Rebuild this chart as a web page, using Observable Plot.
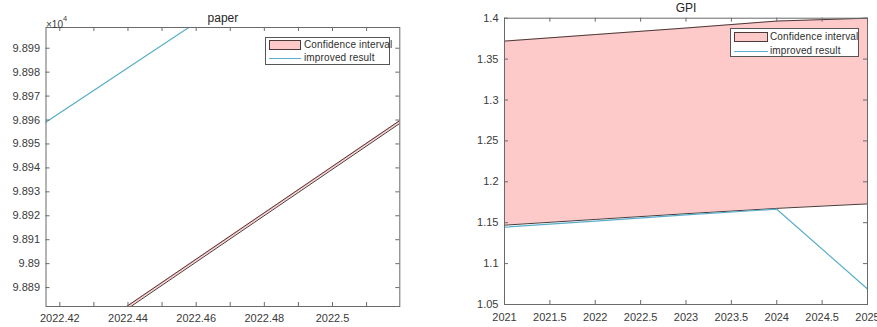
<!DOCTYPE html>
<html>
<head>
<meta charset="utf-8">
<script src="https://cdn.jsdelivr.net/npm/d3@7"></script>
<script src="https://cdn.jsdelivr.net/npm/@observablehq/plot@0.6"></script>
<style>
  html, body { margin: 0; padding: 0; background: #fff; overflow: hidden; }
  #fig { position: relative; width: 877px; height: 327px; font-family: "Liberation Sans", Arial, sans-serif; }
  .panel { position: absolute; top: 0; }
  .legend { position: absolute; background: #fff; border: 1px solid #555; box-sizing: border-box; font-size: 10px; letter-spacing: 0.15px; color: #2e2e2e; }
  .legend .patch { position: absolute; background: #fdc9c9; border: 1px solid #4a3a3a; box-sizing: border-box; }
  .legend .swatch-line { position: absolute; height: 0; border-top: 1.2px solid #5aaecb; }
  .legend .lab { position: absolute; white-space: nowrap; line-height: 12px; }
</style>
</head>
<body>
<div id="fig"></div>
<script>
// ---- "paper" panel: raw values, axis shows them in units of 10^4 ----
const paperYears = [2022, 2023];
const paperUpper = [98456.0, 99425.3];
const paperLower = [98454.8, 99424.1];
const paperImproved = [98566.2, 99510.8];
const paperXDomain = [2022.41595, 2022.51974];
const paperYDomain = [98882.1, 98998.65];
const paperXTicks = [2022.42, 2022.43, 2022.44, 2022.45, 2022.46, 2022.47, 2022.48, 2022.49, 2022.50, 2022.51];
const paperXLabels = [2022.42, 2022.44, 2022.46, 2022.48, 2022.50];
const paperYTicks = [98890, 98900, 98910, 98920, 98930, 98940, 98950, 98960, 98970, 98980, 98990];

// ---- "GPI" panel ----
const gpiYears = [2021, 2022, 2023, 2024, 2025];
const gpiUpper = [1.372, 1.380, 1.388, 1.3965, 1.400];
const gpiLower = [1.147, 1.154, 1.161, 1.1675, 1.173];
const gpiImproved = [1.1445, 1.152, 1.1595, 1.1665, 1.069];
const gpiXDomain = [2021, 2025];
const gpiYDomain = [1.05, 1.4];
const gpiXTicks = [2021, 2021.5, 2022, 2022.5, 2023, 2023.5, 2024, 2024.5, 2025];
const gpiYTicks = [1.05, 1.1, 1.15, 1.2, 1.25, 1.3, 1.35, 1.4];

const fillPink = "#fdc9c9";
const edgeColor = "#4a3a3a";
const lineCyan = "#5aaecb";
const frameColor = "#6a6a6a";
const textColor = "#3a3a3a";

function rows(years, lower, upper, improved) {
  return years.map((year, i) => ({year, lower: lower[i], upper: upper[i], improved: improved[i]}));
}

// Box-style axes with inward ticks on all four sides
function boxTicks(xTicks, yTicks, fw, fh) {
  const len = 4;
  return [
    Plot.tickX(xTicks, {x: d => d, insetTop: fh - len, stroke: frameColor}),
    Plot.tickX(xTicks, {x: d => d, insetBottom: fh - len, stroke: frameColor}),
    Plot.tickY(yTicks, {y: d => d, insetRight: fw - len, stroke: frameColor}),
    Plot.tickY(yTicks, {y: d => d, insetLeft: fw - len, stroke: frameColor})
  ];
}

function panel({width, height, margins, xDomain, yDomain, xTicks, xLabels, yTicks, xFormat, yFormat, xPad, data, clip, title, titleDy, extraMarks}) {
  const [mt, mr, mb, ml] = margins;
  const fw = width - ml - mr, fh = height - mt - mb;
  return Plot.plot({
    width, height,
    marginTop: mt, marginRight: mr, marginBottom: mb, marginLeft: ml,
    x: {domain: xDomain},
    y: {domain: yDomain},
    style: {fontFamily: '"Liberation Sans", Arial, sans-serif', fontSize: "11px", color: textColor, background: "transparent", overflow: "visible"},
    marks: [
      Plot.areaY(data, {x: "year", y1: "lower", y2: "upper", fill: fillPink, clip}),
      Plot.lineY(data, {x: "year", y: "upper", stroke: edgeColor, strokeWidth: 1, clip}),
      Plot.lineY(data, {x: "year", y: "lower", stroke: edgeColor, strokeWidth: 1, clip}),
      Plot.lineY(data, {x: "year", y: "improved", stroke: lineCyan, strokeWidth: 1.2, clip}),
      Plot.frame({stroke: frameColor, strokeWidth: 1}),
      ...boxTicks(xTicks, yTicks, fw, fh),
      Plot.axisX(xLabels, {anchor: "bottom", tickSize: 0, tickPadding: xPad, tickFormat: xFormat, label: null, fill: textColor}),
      Plot.axisY(yTicks, {anchor: "left", tickSize: 0, tickPadding: 6, tickFormat: yFormat, label: null, fill: textColor}),
      Plot.text([title], {text: d => d, frameAnchor: "top", dy: titleDy, fontSize: 12, fill: "#262626"}),
      ...(extraMarks || [])
    ]
  });
}

function legend(left, top, w, h, patchW, textX, row1, row2) {
  const el = document.createElement("div");
  el.className = "legend";
  Object.assign(el.style, {left: left + "px", top: top + "px", width: w + "px", height: h + "px"});
  el.innerHTML =
    `<div class="patch" style="left:3px;top:${row1 - 5}px;width:${patchW}px;height:10px"></div>` +
    `<div class="lab" style="left:${textX}px;top:${row1 - 6}px">Confidence interval</div>` +
    `<div class="swatch-line" style="left:3px;top:${row2}px;width:${patchW}px"></div>` +
    `<div class="lab" style="left:${textX}px;top:${row2 - 6}px">improved result</div>`;
  return el;
}

const fig = document.getElementById("fig");

const left = panel({
  width: 430, height: 327, margins: [27, 30.7, 21, 45.5],
  xDomain: paperXDomain, yDomain: paperYDomain,
  xTicks: paperXTicks, xLabels: paperXLabels, yTicks: paperYTicks,
  xFormat: d => String(+d.toFixed(2)),
  yFormat: d => String(+(d / 1e4).toFixed(4)),
  xPad: 8,
  data: rows(paperYears, paperLower, paperUpper, paperImproved),
  clip: true, title: "paper", titleDy: -14.5,
  extraMarks: [
    // axis multiplier: "×10" with a raised exponent
    Plot.text(["\u00d710"], {text: d => d, frameAnchor: "top-left", textAnchor: "start", dy: -7, dx: 0, fontSize: 10, fill: textColor}),
    Plot.text(["4"], {text: d => d, frameAnchor: "top-left", textAnchor: "start", dy: -12, dx: 17, fontSize: 7.5, fill: textColor})
  ]
});
left.classList.add("panel");
left.style.left = "0px";
fig.appendChild(left);

const right = panel({
  width: 447, height: 327, margins: [17.7, 10, 23, 74],
  xDomain: gpiXDomain, yDomain: gpiYDomain,
  xTicks: gpiXTicks, xLabels: gpiXTicks, yTicks: gpiYTicks,
  xFormat: d => String(d),
  yFormat: d => String(+d.toFixed(2)),
  xPad: 9,
  data: rows(gpiYears, gpiLower, gpiUpper, gpiImproved),
  clip: false, title: "GPI", titleDy: -15
});
right.classList.add("panel");
right.style.left = "430px";
fig.appendChild(right);

fig.appendChild(legend(265, 37, 125, 28, 32, 38, 7, 20));
fig.appendChild(legend(730, 28, 129, 29, 34, 39, 8, 22));
</script>
</body>
</html>
